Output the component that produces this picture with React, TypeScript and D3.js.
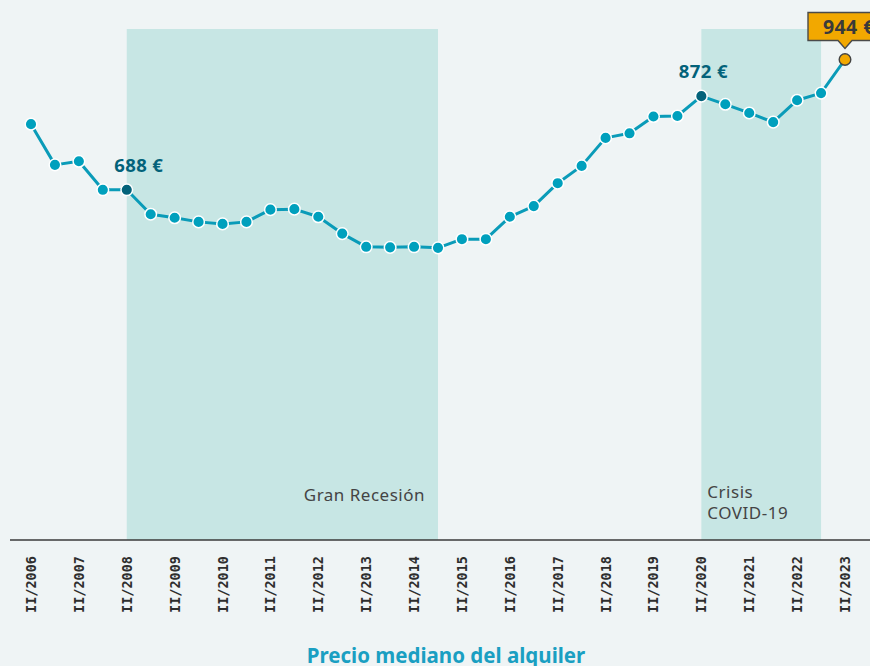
import React from "react";
import * as d3 from "d3";

const periods: string[] = [];
for (let y = 2006; y <= 2023; y++) {
  if (y > 2006) periods.push(`I/${y}`);
  periods.push(`II/${y}`);
}

const values = [
  817, 737, 744, 688, 688, 640, 633, 625, 621, 625, 649, 650, 635, 602, 576, 575, 576, 574,
  591, 591, 635, 656, 701, 735, 790, 799, 832, 833, 872, 856, 839, 821, 864, 878, 944,
];

const tickLabels = periods.filter((p) => p.startsWith("II/"));

const bands = [
  { label: ["Gran Recesión"], start: "II/2008", end: "I/2015" },
  { label: ["Crisis", "COVID-19"], start: "II/2020", end: "I/2023" },
];

const highlights = [
  { period: "II/2008", text: "688 €" },
  { period: "II/2020", text: "872 €" },
];
const lastLabel = "944 €";
const title = "Precio mediano del alquiler";

const W = 870;
const H = 666;
const BG = "#eff4f5";
const BAND = "#c7e6e4";
const LINE = "#0a9bb8";
const DOT = "#00a0bd";
const DARK = "#03627a";
const ORANGE = "#f2a800";
const SANS = "'Noto Sans', 'Open Sans', sans-serif";

export default function App() {
  const x = d3.scaleLinear().domain([0, periods.length - 1]).range([31, 845]);
  const y = d3.scaleLinear().domain([0, 1000]).range([540, 31]);
  const xi = (p: string) => x(periods.indexOf(p));
  const line = d3
    .line<number>()
    .x((_, i) => x(i))
    .y((d) => y(d));
  const lastI = values.length - 1;
  const lx = x(lastI);
  const ly = y(values[lastI]);
  const bandTop = 29;
  const axisY = y(0);
  const labelDx = [12, 2];

  return (
    <svg
      width={W}
      height={H}
      style={{ position: "absolute", left: 0, top: 0, background: BG }}
    >
      <rect x={0} y={0} width={W} height={H} fill={BG} />
      {bands.map((b, k) => {
        const x0 = xi(b.start);
        const x1 = xi(b.end);
        const first = k === 0;
        return (
          <g key={k}>
            <rect x={x0} y={bandTop} width={x1 - x0} height={axisY - bandTop} fill={BAND} />
            {b.label.map((t, j) => (
              <text
                key={j}
                x={first ? x1 - 13 : x0 + 6}
                y={first ? 501 : 497.5 + j * 21.5}
                textAnchor={first ? "end" : "start"}
                fontFamily={SANS}
                fontSize={17}
                letterSpacing={0.5}
                fill="#444"
              >
                {t}
              </text>
            ))}
          </g>
        );
      })}
      <line x1={10} x2={W} y1={axisY} y2={axisY} stroke="#3a3a3a" strokeWidth={1.6} />
      {tickLabels.map((t) => (
        <text
          key={t}
          transform={`translate(${xi(t) + 5},556) rotate(-90)`}
          textAnchor="end"
          fontFamily="'DejaVu Sans Mono', 'Liberation Mono', monospace"
          fontWeight="bold"
          fontSize={13.5}
          fill="#2e2e2e"
        >
          {t}
        </text>
      ))}
      <path d={line(values) || ""} fill="none" stroke={LINE} strokeWidth={3} strokeLinejoin="round" />
      {values.map((v, i) => {
        const hl = highlights.some((h) => periods.indexOf(h.period) === i);
        const last = i === lastI;
        return (
          <circle
            key={i}
            cx={x(i)}
            cy={y(v)}
            r={5.8}
            fill={last ? ORANGE : hl ? DARK : DOT}
            stroke={last ? "#444" : "#fff"}
            strokeWidth={last ? 1.4 : 1.5}
          />
        );
      })}
      {highlights.map((h, k) => {
        const i = periods.indexOf(h.period);
        return (
          <text
            key={h.period}
            x={x(i) + labelDx[k]}
            y={y(values[i]) - 18}
            textAnchor="middle"
            fontFamily={SANS}
            fontWeight="bold"
            fontSize={18.5}
            letterSpacing={0.4}
            fill={DARK}
          >
            {h.text}
          </text>
        );
      })}
      <g>
        <path
          d={`M${lx - 37},${ly - 47} H${lx + 40} V${ly - 19} H${lx + 7} L${lx},${ly - 11} L${lx - 7},${ly - 19} H${lx - 37} Z`}
          fill={ORANGE}
          stroke="#4a4a4a"
          strokeWidth={1.4}
        />
        <text
          x={lx - 22}
          y={ly - 26}
          fontFamily={SANS}
          fontWeight="bold"
          fontSize={19.5}
          letterSpacing={0.4}
          fill="#3a3a3a"
        >
          {lastLabel}
        </text>
      </g>
      <text
        x={446}
        y={663}
        textAnchor="middle"
        fontFamily={SANS}
        fontWeight="bold"
        fontSize={20.5}
        fill="#1a9fc2"
      >
        {title}
      </text>
    </svg>
  );
}
